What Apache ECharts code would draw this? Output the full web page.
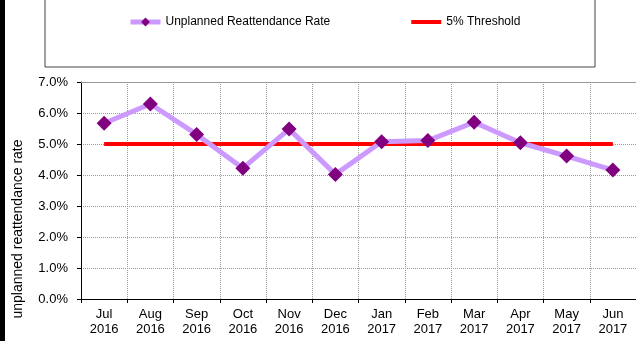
<!DOCTYPE html>
<html>
<head>
<meta charset="utf-8">
<script src="https://cdn.jsdelivr.net/npm/echarts@6/dist/echarts.min.js"></script>
<style>
  html, body { margin: 0; padding: 0; background: #fff; }
  #chart { width: 636px; height: 341px; }
</style>
</head>
<body>
<div id="chart"></div>
<script>
// months on the x axis (two-line labels)
var months = ['Jul\n2016', 'Aug\n2016', 'Sep\n2016', 'Oct\n2016', 'Nov\n2016', 'Dec\n2016',
  'Jan\n2017', 'Feb\n2017', 'Mar\n2017', 'Apr\n2017', 'May\n2017', 'Jun\n2017']
// unplanned reattendance rate, %
var rate = [5.67, 6.29, 5.31, 4.22, 5.48, 4.02, 5.07, 5.11, 5.70, 5.04, 4.61, 4.16]
var threshold = [5, 5, 5, 5, 5, 5, 5, 5, 5, 5, 5, 5]

var font = 'Liberation Sans, Arial, sans-serif'
var chart = echarts.init(document.getElementById('chart'))

chart.setOption({
  animation: false,
  grid: { left: 81, right: 0, top: 82, bottom: 42 },
  legend: {
    left: 128,
    top: 16,
    padding: 0,
    itemGap: 79,
    itemWidth: 30,
    itemHeight: 11,
    lineStyle: { width: 'inherit' },
    textStyle: { fontFamily: font, fontSize: 12, color: '#000' },
    data: [
      { name: 'Unplanned Reattendance Rate' },
      // threshold legend shows only the line
      { name: '5% Threshold', itemStyle: { opacity: 0 } }
    ]
  },
  graphic: [
    // legend frame
    { type: 'rect', shape: { x: 45, y: -2, width: 550, height: 69 },
      style: { fill: 'none', stroke: '#444', lineWidth: 1 } },
    // dark strip on left edge
    { type: 'rect', shape: { x: 0, y: 0, width: 5, height: 341 }, style: { fill: '#000' } },
    {
      type: 'text', x: 18, y: 229, rotation: Math.PI / 2,
      style: {
        text: 'unplanned reattendance rate', fontFamily: font, fontSize: 14,
        fill: '#000', align: 'center', verticalAlign: 'middle'
      }
    }
  ],
  xAxis: [
    {
      type: 'category',
      data: months,
      boundaryGap: true,
      axisLine: { lineStyle: { color: '#000', width: 1 } },
      axisTick: { show: true, length: 4, lineStyle: { color: '#000' } },
      axisLabel: { fontFamily: font, fontSize: 13, color: '#000', lineHeight: 15, margin: 8, interval: 0 },
      splitLine: { show: true, interval: 0, lineStyle: { color: '#999', type: 'dotted' } }
    },
    {
      // plot area top border
      type: 'category',
      data: months,
      position: 'top',
      axisLine: { lineStyle: { color: '#999', width: 1 } },
      axisTick: { show: false },
      axisLabel: { show: false },
      splitLine: { show: false }
    }
  ],
  yAxis: {
    type: 'value',
    min: 0,
    max: 7,
    interval: 1,
    axisLine: { show: true, lineStyle: { color: '#000', width: 1 } },
    axisTick: { show: true, length: 4, lineStyle: { color: '#000' } },
    axisLabel: {
      fontFamily: font, fontSize: 13, color: '#000', margin: 13,
      formatter: function (v) { return v.toFixed(1) + '%' }
    },
    splitLine: { show: true, lineStyle: { color: '#999', type: 'dotted' } }
  },
  series: [
    {
      name: 'Unplanned Reattendance Rate',
      type: 'line',
      data: rate,
      symbol: 'diamond',
      symbolSize: 15,
      itemStyle: { color: '#800080' },
      lineStyle: { color: '#CC99FF', width: 5 },
      z: 3
    },
    {
      name: '5% Threshold',
      type: 'line',
      data: threshold,
      symbol: 'none',
      itemStyle: { color: '#FF0000' },
      lineStyle: { color: '#FF0000', width: 4 },
      z: 2
    }
  ]
})
</script>
</body>
</html>
